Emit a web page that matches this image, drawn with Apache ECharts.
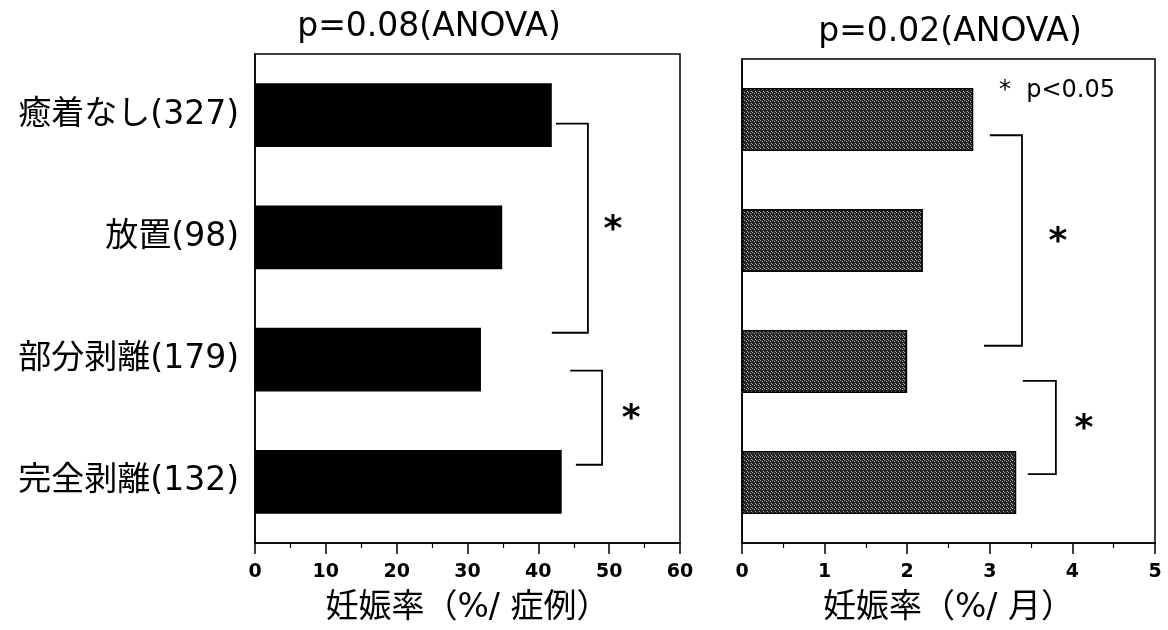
<!DOCTYPE html>
<html>
<head>
<meta charset="utf-8">
<script src="https://cdn.jsdelivr.net/npm/echarts@6/dist/echarts.min.js"></script>
<style>
  html, body { margin: 0; padding: 0; background: #fff; }
  #chart { width: 1168px; height: 630px; }
</style>
</head>
<body>
<div id="chart"></div>
<script>
// categories (top to bottom)
const categories = ['癒着なし(327)', '放置(98)', '部分剥離(179)', '完全剥離(132)'];
// pregnancy rate, % per case
const ratePerCase = [41.9, 34.9, 31.9, 43.3];
// pregnancy rate, % per month
const ratePerMonth = [2.8, 2.19, 2.0, 3.32];
const leftTicks = [0, 60, 10];
const rightTicks = [0, 5, 1];
// significance brackets: [xVertical, catIdx, yTop, yBottom, xTopStart, xBottomStart, starOffset]
const leftBrackets = [
  [47.0, 0, 0.07, 1.78, 42.5, 41.9, 25],
  [49.0, 0, 2.09, 2.86, 44.5, 45.3, 29]
];
const rightBrackets = [
  [3.39, 0, 0.13, 1.87, 3.0, 2.93, 36],
  [3.8, 0, 2.16, 2.93, 3.4, 3.46, 28]
];

const FONT = "'DejaVu Sans', 'Noto Sans CJK JP', sans-serif";

function makePattern() {
  const c = document.createElement('canvas');
  c.width = 4; c.height = 4;
  const ctx = c.getContext('2d');
  ctx.fillStyle = '#262626';
  ctx.fillRect(0, 0, 4, 4);
  ctx.fillStyle = '#a8a8a8';
  [[0, 0], [2, 1], [3, 3]].forEach(([x, y]) => ctx.fillRect(x, y, 1, 1));
  return c;
}

function renderBracket(params, api) {
  const xv = api.value(0);
  const base = api.coord([xv, api.value(1)]);
  const band = api.size([0, 1])[1];
  const yTop = base[1] + api.value(2) * band;
  const yBot = base[1] + api.value(3) * band;
  const xs1 = api.coord([api.value(4), 0])[0];
  const xs2 = api.coord([api.value(5), 0])[0];
  const xVert = base[0];
  return {
    type: 'group',
    children: [
      {
        type: 'polyline',
        shape: { points: [[xs1, yTop], [xVert, yTop], [xVert, yBot], [xs2, yBot]] },
        style: { stroke: '#000', lineWidth: 1.8, fill: null }
      },
      {
        type: 'text',
        style: {
          text: '*', x: xVert + api.value(6), y: (yTop + yBot) / 2 + 2,
          fontSize: 36, fontWeight: 'bold', fontFamily: FONT, fill: '#000',
          align: 'center', verticalAlign: 'middle'
        }
      }
    ]
  };
}

function xAxisFor(gridIndex, ticks, name) {
  return {
    type: 'value',
    gridIndex: gridIndex,
    min: ticks[0], max: ticks[1], interval: ticks[2],
    axisLine: { show: true, lineStyle: { color: '#000', width: 1.5 } },
    axisTick: { show: true, length: 11, lineStyle: { color: '#000', width: 1.5 } },
    minorTick: { show: true, splitNumber: 2, length: 5, lineStyle: { color: '#000', width: 1.2 } },
    splitLine: { show: false },
    axisLabel: { color: '#000', fontSize: 19, fontWeight: 'bold', fontFamily: FONT, margin: 20 },
    name: name,
    nameLocation: 'middle',
    nameGap: 49,
    nameTextStyle: { color: '#000', fontSize: 33, fontFamily: FONT }
  };
}

const chart = echarts.init(document.getElementById('chart'), null, { renderer: 'canvas' });

const option = {
  backgroundColor: '#fff',
  animation: false,
  title: [
    { text: 'p=0.08(ANOVA)', left: 424, top: 6, textAlign: 'center',
      textStyle: { fontSize: 33, fontWeight: 'normal', color: '#000', fontFamily: FONT } },
    { text: 'p=0.02(ANOVA)', left: 945, top: 11, textAlign: 'center',
      textStyle: { fontSize: 33, fontWeight: 'normal', color: '#000', fontFamily: FONT } },
    { text: '*  p<0.05', left: 994, top: 74,
      textStyle: { fontSize: 24, fontWeight: 'normal', color: '#000', fontFamily: FONT } }
  ],
  grid: [
    { left: 255, right: 488, top: 54, bottom: 87, outerBoundsMode: 'none', show: true, borderColor: '#000', borderWidth: 1.5, backgroundColor: 'transparent' },
    { left: 742, right: 13, top: 59, bottom: 87, outerBoundsMode: 'none', show: true, borderColor: '#000', borderWidth: 1.5, backgroundColor: 'transparent' }
  ],
  xAxis: [
    xAxisFor(0, leftTicks, '妊娠率（%/ 症例）'),
    xAxisFor(1, rightTicks, '妊娠率（%/ 月）')
  ],
  yAxis: [
    {
      type: 'category', gridIndex: 0, data: categories, inverse: true,
      axisLine: { show: true, lineStyle: { color: '#000', width: 1.5 } },
      axisTick: { show: false },
      axisLabel: { color: '#000', fontSize: 33, fontFamily: FONT, margin: 16 }
    },
    {
      type: 'category', gridIndex: 1, data: categories, inverse: true,
      axisLine: { show: true, lineStyle: { color: '#000', width: 1.5 } },
      axisTick: { show: false },
      axisLabel: { show: false }
    }
  ],
  series: [
    {
      type: 'bar', xAxisIndex: 0, yAxisIndex: 0, data: ratePerCase,
      barWidth: '52%', itemStyle: { color: '#000' }, silent: true
    },
    {
      type: 'bar', xAxisIndex: 1, yAxisIndex: 1, data: ratePerMonth,
      barWidth: '52%',
      itemStyle: { color: { image: makePattern(), repeat: 'repeat' }, borderColor: '#000', borderWidth: 1.5 },
      silent: true
    },
    {
      type: 'custom', xAxisIndex: 0, yAxisIndex: 0, data: leftBrackets,
      encode: { x: 0, y: 1 }, renderItem: renderBracket, silent: true, z: 5
    },
    {
      type: 'custom', xAxisIndex: 1, yAxisIndex: 1, data: rightBrackets,
      encode: { x: 0, y: 1 }, renderItem: renderBracket, silent: true, z: 5
    }
  ]
};

chart.setOption(option);
</script>
</body>
</html>
